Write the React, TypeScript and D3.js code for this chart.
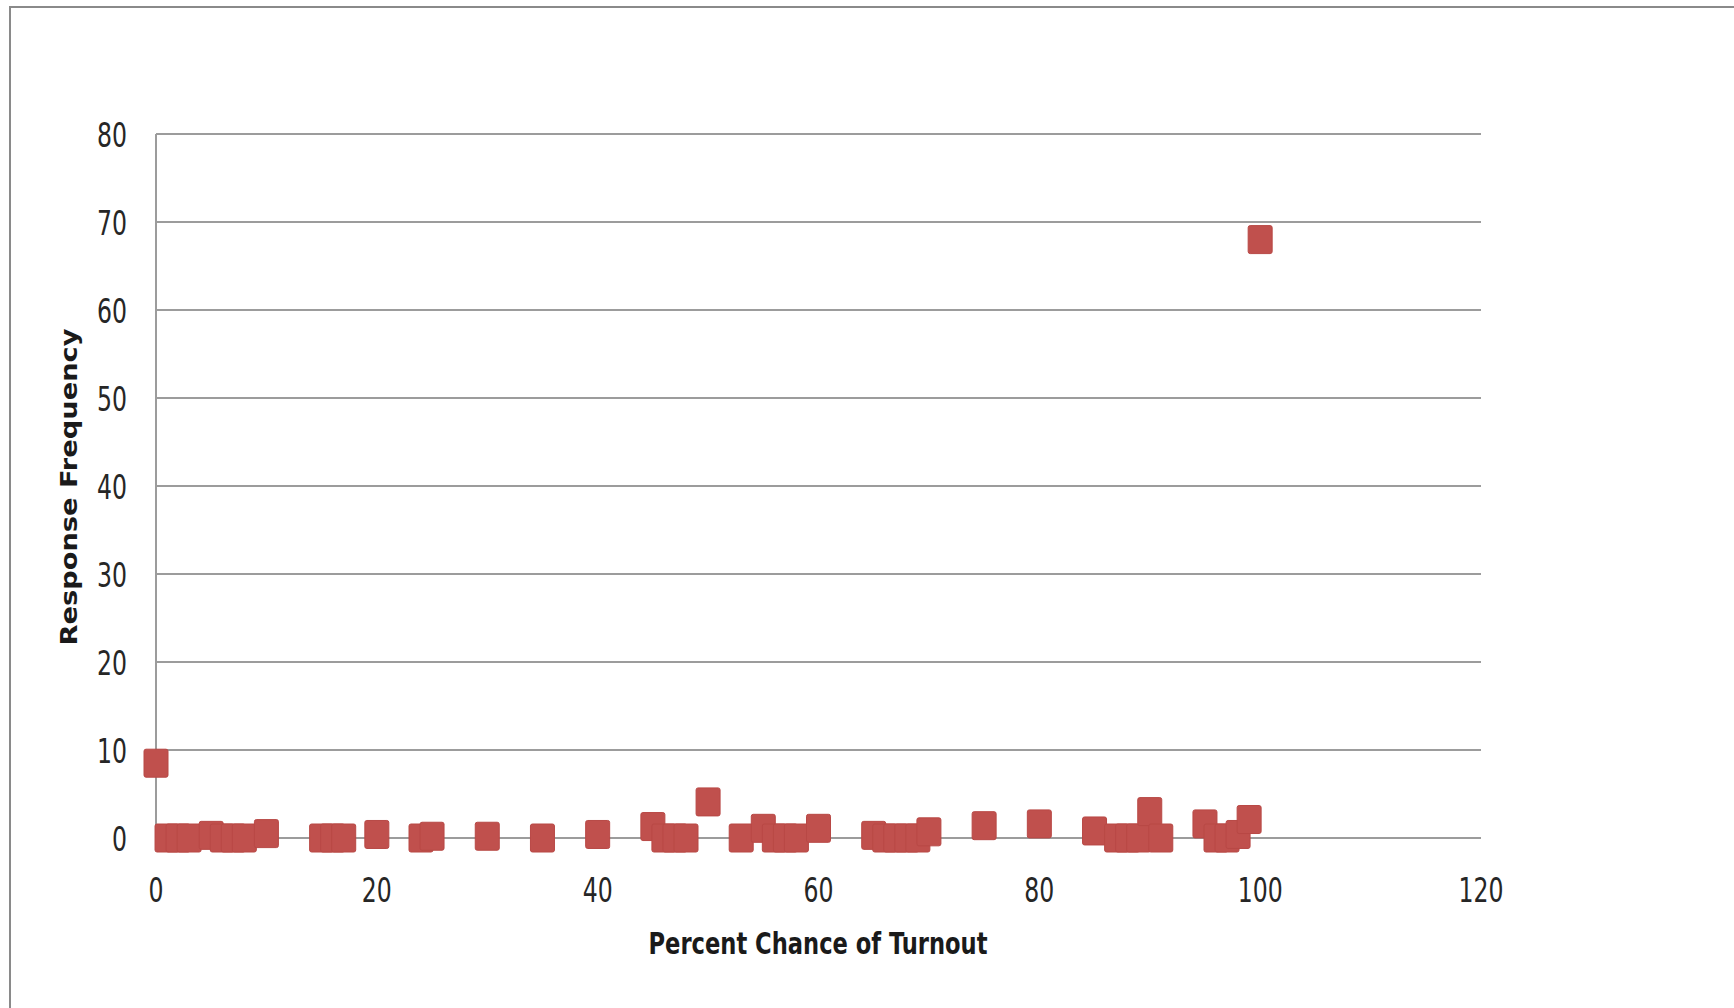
import * as d3 from 'd3';
import React, { useEffect, useRef } from 'react';

// percent chance of turnout (x) and response frequency (y)
const percentChance = [0, 1, 2, 3, 5, 6, 7, 8, 10, 15, 16, 17, 20, 24, 25, 30, 35, 40, 45, 46, 47, 48, 50, 53, 55, 56, 57, 58, 60, 65, 66, 67, 68, 69, 70, 75, 80, 85, 87, 88, 89, 90, 91, 95, 96, 97, 98, 99, 100];
const responseFrequency = [8.5, 0, 0, 0, 0.3, 0, 0, 0, 0.5, 0, 0, 0, 0.4, 0, 0.2, 0.2, 0, 0.4, 1.3, 0, 0, 0, 4.1, 0, 1.1, 0, 0, 0, 1.1, 0.3, 0, 0, 0, 0, 0.7, 1.4, 1.6, 0.8, 0, 0, 0, 3.0, 0, 1.6, 0, 0, 0.4, 2.1, 68];
const xTicks = [0, 20, 40, 60, 80, 100, 120];
const yTicks = [0, 10, 20, 30, 40, 50, 60, 70, 80];

const labelFont = '"Liberation Sans Narrow", "Arial Narrow", "DejaVu Sans Condensed", sans-serif';

const App: React.FC = () => {
    const svgRef = useRef<SVGSVGElement | null>(null);

    useEffect(() => {
        const width = 1734;
        const height = 1008;
        const plot = { left: 156, right: 1481, top: 134, bottom: 838 };

        d3.select(svgRef.current).selectAll('*').remove();

        const svg = d3
            .select(svgRef.current)
            .attr('width', width)
            .attr('height', height);

        svg.append('rect').attr('width', width).attr('height', height).attr('fill', '#fff');

        // outer chart border (cropped at right and bottom)
        svg.append('path')
            .attr('d', `M10,${height}V7H${width}`)
            .attr('fill', 'none')
            .attr('stroke', '#8a8a8a')
            .attr('stroke-width', 2);

        const x = d3.scaleLinear().domain([0, 120]).range([plot.left, plot.right]);
        const y = d3.scaleLinear().domain([0, 80]).range([plot.bottom, plot.top]);

        // horizontal gridlines
        svg.append('g')
            .selectAll('line')
            .data(yTicks)
            .enter()
            .append('line')
            .attr('x1', plot.left)
            .attr('x2', plot.right)
            .attr('y1', d => y(d))
            .attr('y2', d => y(d))
            .attr('stroke', '#9c9c9c')
            .attr('stroke-width', 2);

        // vertical axis line
        svg.append('line')
            .attr('x1', plot.left)
            .attr('x2', plot.left)
            .attr('y1', plot.top)
            .attr('y2', plot.bottom)
            .attr('stroke', '#9c9c9c')
            .attr('stroke-width', 2);

        // y tick labels
        svg.append('g')
            .selectAll('text')
            .data(yTicks)
            .enter()
            .append('text')
            .attr('x', 127)
            .attr('y', d => y(d) + 1)
            .attr('text-anchor', 'end')
            .attr('dominant-baseline', 'central')
            .attr('font-family', labelFont)
            .attr('font-size', 34)
            .attr('fill', '#262626')
            .attr('textLength', d => String(d).length * 15)
            .attr('lengthAdjust', 'spacingAndGlyphs')
            .text(d => d);

        // x tick labels
        svg.append('g')
            .selectAll('text')
            .data(xTicks)
            .enter()
            .append('text')
            .attr('x', d => x(d))
            .attr('y', 890)
            .attr('text-anchor', 'middle')
            .attr('dominant-baseline', 'central')
            .attr('font-family', labelFont)
            .attr('font-size', 34)
            .attr('fill', '#262626')
            .attr('textLength', d => String(d).length * 15)
            .attr('lengthAdjust', 'spacingAndGlyphs')
            .text(d => d);

        // axis titles
        svg.append('text')
            .attr('x', 818)
            .attr('y', 943)
            .attr('text-anchor', 'middle')
            .attr('dominant-baseline', 'central')
            .attr('font-family', labelFont)
            .attr('font-weight', 'bold')
            .attr('font-size', 30)
            .attr('fill', '#1a1a1a')
            .attr('textLength', 339)
            .attr('lengthAdjust', 'spacingAndGlyphs')
            .text('Percent Chance of Turnout');

        svg.append('text')
            .attr('transform', 'translate(69,487) rotate(-90)')
            .attr('text-anchor', 'middle')
            .attr('dominant-baseline', 'central')
            .attr('font-family', '"DejaVu Sans", Verdana, sans-serif')
            .attr('font-weight', 'bold')
            .attr('font-size', 23)
            .attr('fill', '#1a1a1a')
            .attr('textLength', 317)
            .attr('lengthAdjust', 'spacingAndGlyphs')
            .text('Response Frequency');

        // square markers
        const points = percentChance.map((p, i) => ({ p, f: responseFrequency[i] }));
        const mw = 24;
        const mh = 28;
        svg.append('g')
            .selectAll('rect')
            .data(points)
            .enter()
            .append('rect')
            .attr('x', d => x(d.p) - mw / 2)
            .attr('y', d => y(d.f) - mh / 2)
            .attr('width', mw)
            .attr('height', mh)
            .attr('rx', 2)
            .attr('fill', '#c0504d')
            .attr('stroke', '#b84845')
            .attr('stroke-width', 1);
    }, []);

    return <svg ref={svgRef} style={{ position: 'absolute', left: 0, top: 0, display: 'block' }}></svg>;
};

export default App;
